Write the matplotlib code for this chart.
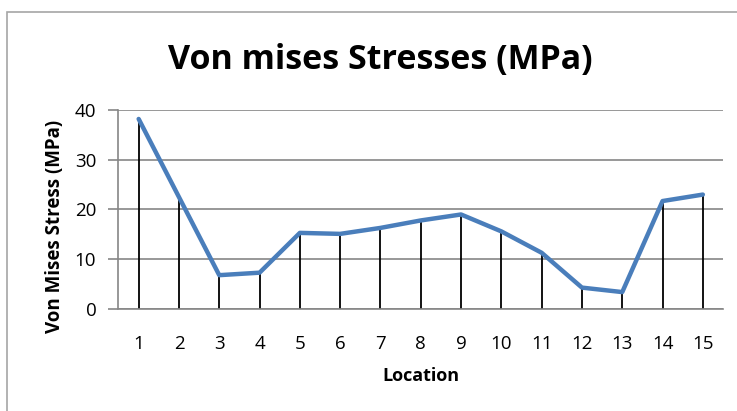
import matplotlib
matplotlib.use("Agg")
import matplotlib.pyplot as plt
from matplotlib.patches import Rectangle

locations = list(range(1, 16))
stress = [38.2, 22.5, 6.8, 7.3, 15.3, 15.1, 16.3, 17.8, 19.0, 15.6, 11.3, 4.3, 3.4, 21.7, 23.0]
yticks = [0, 10, 20, 30, 40]

W, H = 737, 411
plt.rcParams["font.family"] = ["Open Sans", "DejaVu Sans"]

fig = plt.figure(figsize=(W / 100, H / 100), dpi=100)
fig.patches.append(Rectangle((7 / W, -0.1), 1.2, 1 - 12 / H + 0.1, transform=fig.transFigure,
                             fill=False, edgecolor="#a6a6a6", linewidth=1.2))

ax = fig.add_axes([118.5 / W, 1 - 309 / H, (723 - 118.5) / W, (309 - 110) / H])
ax.vlines(locations, 0, stress, color="black", linewidth=1.3, zorder=2)
ax.plot(locations, stress, color="#4a7ebb", linewidth=3.2, zorder=3, solid_capstyle="round")

ax.set_xlim(0.5, 15.5)
ax.set_ylim(0, 40)
ax.set_xticks(locations)
ax.set_yticks(yticks)
ax.tick_params(axis="x", length=0, pad=19, labelsize=13.5)
ax.tick_params(axis="y", length=7, color="#868686", width=1.2, pad=9, labelsize=13.5)
ax.grid(axis="y", color="#868686", linewidth=1.2)
ax.set_axisbelow(True)
for s in ["top", "right"]:
    ax.spines[s].set_visible(False)
ax.spines["left"].set_color("#868686")
ax.spines["bottom"].set_color("#868686")
ax.spines["left"].set_linewidth(1.2)
ax.spines["bottom"].set_linewidth(1.2)

ax.set_xlabel("Location", fontsize=13, fontweight="bold", labelpad=10)
ax.set_ylabel("Von Mises Stress (MPa)", fontsize=13.5, fontweight="bold")
ax.yaxis.set_label_coords(-0.088, 0.415)
fig.text(380 / W, 1 - 60 / H, "Von mises Stresses (MPa)", fontsize=24.5, fontweight="bold",
         ha="center", va="center")

fig.savefig("out.png", dpi=100)
